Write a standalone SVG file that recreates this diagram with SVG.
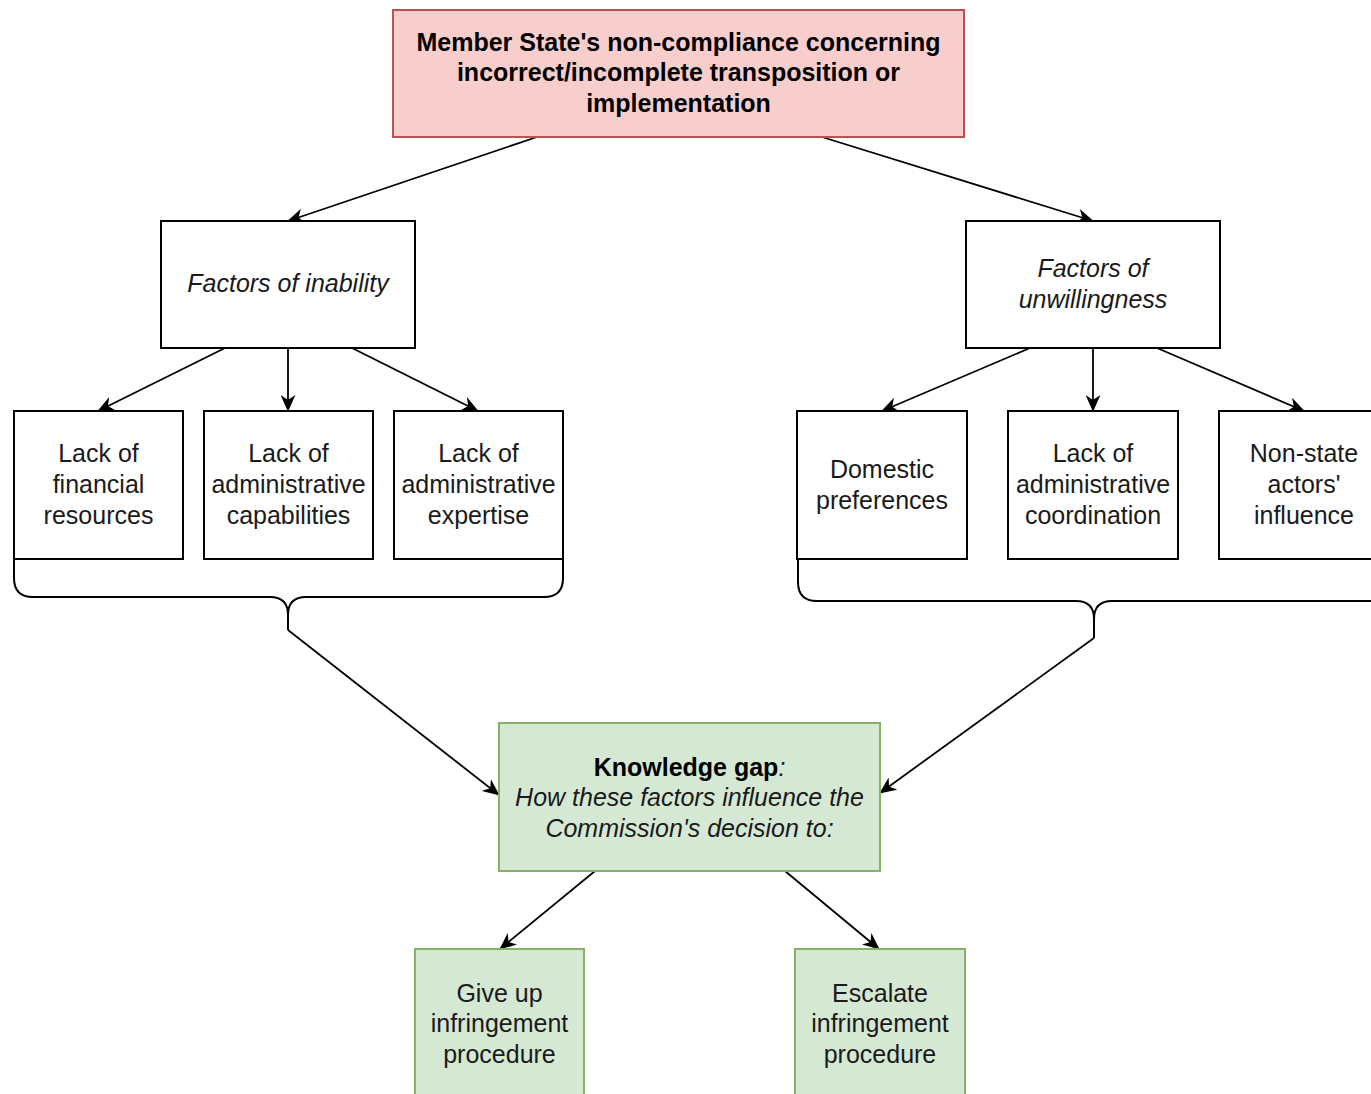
<svg xmlns="http://www.w3.org/2000/svg" width="1371" height="1094" viewBox="0 0 1371 1094">
<style>
.box{fill:#ffffff;stroke:#000000;stroke-width:2}
.red{fill:#f8cecc;stroke:#b85450;stroke-width:2}
.green{fill:#d5e8d4;stroke:#82b366;stroke-width:2}
text{font-family:"Liberation Sans",Arial,sans-serif;font-size:25px;fill:#1a1a1a;text-anchor:middle}
.b{font-weight:bold;fill:#000}
.i{font-style:italic}
.edge{fill:none;stroke:#000;stroke-width:1.8}
.brace{fill:none;stroke:#000;stroke-width:2}
</style>
<defs>
<marker id="arr" viewBox="0 0 10 10" refX="9.5" refY="5" markerUnits="userSpaceOnUse" markerWidth="17" markerHeight="15" preserveAspectRatio="none" orient="auto">
<path d="M0,0 L10,5 L0,10 L3,5 Z" fill="#000"/>
</marker>
</defs>

<g id="connectors">
<path class="edge" d="M537,137 L288,221" marker-end="url(#arr)"/>
<path class="edge" d="M822,137 L1093,221" marker-end="url(#arr)"/>
<path class="edge" d="M225,348 L98,411" marker-end="url(#arr)"/>
<path class="edge" d="M288,348 L288,411" marker-end="url(#arr)"/>
<path class="edge" d="M352,348 L478,411" marker-end="url(#arr)"/>
<path class="edge" d="M1030,348 L882,411" marker-end="url(#arr)"/>
<path class="edge" d="M1093,348 L1093,411" marker-end="url(#arr)"/>
<path class="edge" d="M1157,348 L1304,411" marker-end="url(#arr)"/>
<path class="brace" d="M14,559 L14,578 Q14,597 33,597 L270,597 Q288,597 288,615 L288,630 M563,559 L563,578 Q563,597 544,597 L306,597 Q288,597 288,615"/>
<path class="edge" d="M288,630 L499,795" marker-end="url(#arr)"/>
<path class="brace" d="M798,559 L798,582 Q798,601 817,601 L1076,601 Q1094,601 1094,619 L1094,638 M1389,559 L1389,582 Q1389,601 1370,601 L1112,601 Q1094,601 1094,619"/>
<path class="edge" d="M1094,638 L880,793" marker-end="url(#arr)"/>
<path class="edge" d="M595,871 L500,949" marker-end="url(#arr)"/>
<path class="edge" d="M785,871 L879,949" marker-end="url(#arr)"/>
</g>

<g id="top">
<rect class="red" x="393" y="10" width="571" height="127"/>
<text class="b" x="678.5" y="51">Member State's non-compliance concerning</text>
<text class="b" x="678.5" y="81">incorrect/incomplete transposition or</text>
<text class="b" x="678.5" y="112">implementation</text>
</g>

<g id="inability">
<rect class="box" x="161" y="221" width="254" height="127"/>
<text class="i" x="288" y="292">Factors of inability</text>
</g>

<g id="unwillingness">
<rect class="box" x="966" y="221" width="254" height="127"/>
<text class="i" x="1093" y="277">Factors of</text>
<text class="i" x="1093" y="308">unwillingness</text>
</g>

<g id="financial">
<rect class="box" x="14" y="411" width="169" height="148"/>
<text x="98.5" y="462">Lack of</text>
<text x="98.5" y="493">financial</text>
<text x="98.5" y="524">resources</text>
</g>

<g id="capabilities">
<rect class="box" x="204" y="411" width="169" height="148"/>
<text x="288.5" y="462">Lack of</text>
<text x="288.5" y="493">administrative</text>
<text x="288.5" y="524">capabilities</text>
</g>

<g id="expertise">
<rect class="box" x="394" y="411" width="169" height="148"/>
<text x="478.5" y="462">Lack of</text>
<text x="478.5" y="493">administrative</text>
<text x="478.5" y="524">expertise</text>
</g>

<g id="domestic">
<rect class="box" x="797" y="411" width="170" height="148"/>
<text x="882" y="478">Domestic</text>
<text x="882" y="509">preferences</text>
</g>

<g id="coordination">
<rect class="box" x="1008" y="411" width="170" height="148"/>
<text x="1093" y="462">Lack of</text>
<text x="1093" y="493">administrative</text>
<text x="1093" y="524">coordination</text>
</g>

<g id="nonstate">
<rect class="box" x="1219" y="411" width="170" height="148"/>
<text x="1304" y="462">Non-state</text>
<text x="1304" y="493">actors'</text>
<text x="1304" y="524">influence</text>
</g>

<g id="gap">
<rect class="green" x="499" y="723" width="381" height="148"/>
<text x="689.5" y="776"><tspan class="b">Knowledge gap</tspan><tspan class="i">:</tspan></text>
<text class="i" x="689.5" y="806">How these factors influence the</text>
<text class="i" x="689.5" y="837">Commission's decision to:</text>
</g>

<g id="giveup">
<rect class="green" x="415" y="949" width="169" height="160"/>
<text x="499.5" y="1002">Give up</text>
<text x="499.5" y="1032">infringement</text>
<text x="499.5" y="1063">procedure</text>
</g>

<g id="escalate">
<rect class="green" x="795" y="949" width="170" height="160"/>
<text x="880" y="1002">Escalate</text>
<text x="880" y="1032">infringement</text>
<text x="880" y="1063">procedure</text>
</g>
</svg>
